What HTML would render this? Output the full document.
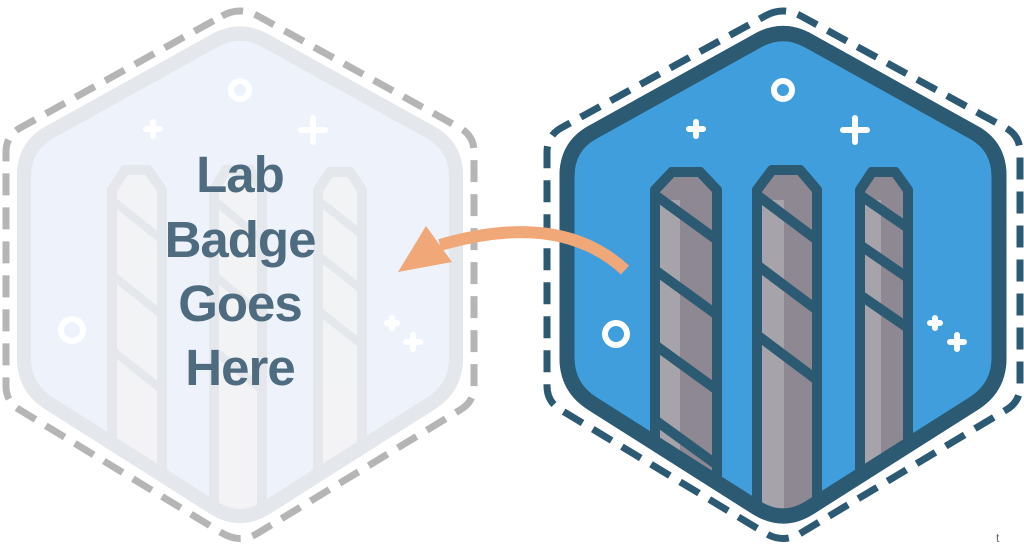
<!DOCTYPE html>
<html><head><meta charset="utf-8"><style>
html,body{margin:0;padding:0;background:#fff;width:1024px;height:551px;overflow:hidden}
svg{display:block}
text{font-family:"Liberation Sans",sans-serif;font-weight:bold}
</style></head><body>
<svg width="1024" height="551" viewBox="0 0 1024 551" xmlns="http://www.w3.org/2000/svg">
<defs>
<path id="rhex" d="M757,41 Q783,26 809,41 L973,132 Q999,146 999,176 L999,358 Q999,388 973,404 L809,508 Q783,524 757,508 L593,404 Q567,388 567,358 L567,176 Q567,146 593,132 Z"/>
<path id="lhex" d="M214,41 Q240,26 266,41 L430,132 Q456,146 456,176 L456,358 Q456,388 430,404 L266,508 Q240,524 214,508 L50,404 Q24,388 24,358 L24,176 Q24,146 50,132 Z"/>
<clipPath id="rin"><use href="#rhex"/></clipPath>
<clipPath id="lin"><use href="#lhex"/></clipPath>
</defs>

<!-- LEFT BADGE -->
<path d="M222,16 Q240,6 258,16 L460,128 Q474,136 474,152 L474,386 Q474,402 460,410 L258,533 Q240,544 222,533 L20,410 Q6,402 6,386 L6,152 Q6,136 20,128 Z" fill="none" stroke="#b5b5b5" stroke-width="7" stroke-dasharray="22,12"/>
<use href="#lhex" fill="#eef3fb" stroke="#e4e7eb" stroke-width="14"/>
<g clip-path="url(#lin)" opacity="0.9">
  <path d="M112,190 L125,170 L148,170 L162,190 L162,540 L112,540 Z" fill="#f3f3f5" stroke="#e4e6ea" stroke-width="10"/>
  <path d="M214,190 L226,170 L250,170 L262,190 L262,540 L214,540 Z" fill="#f3f3f5" stroke="#e4e6ea" stroke-width="10"/>
  <path d="M318,190 L330,172 L350,172 L362,190 L362,540 L318,540 Z" fill="#f3f3f5" stroke="#e4e6ea" stroke-width="10"/>
  <g stroke="#e4e6ea" stroke-width="8">
    <line x1="112" y1="200" x2="162" y2="240"/><line x1="112" y1="275" x2="162" y2="315"/><line x1="112" y1="350" x2="162" y2="390"/>
    <line x1="214" y1="200" x2="262" y2="240"/><line x1="214" y1="275" x2="262" y2="315"/><line x1="214" y1="350" x2="262" y2="390"/>
    <line x1="318" y1="200" x2="362" y2="235"/><line x1="318" y1="255" x2="362" y2="290"/><line x1="318" y1="310" x2="362" y2="345"/>
  </g>
</g>
<use href="#lhex" fill="none" stroke="#e4e7eb" stroke-width="14"/>
<g stroke="#fff" stroke-width="6" fill="none" stroke-linecap="round">
  <circle cx="240" cy="90" r="9"/>
  <circle cx="72" cy="330" r="11"/>
  <path d="M153,122 v14 M146,129 h14"/>
  <path d="M313,118 v24 M301,130 h24"/>
  <path d="M392,318 v10 M387,323 h10"/>
  <path d="M413,335 v14 M406,342 h14"/>
</g>
<g fill="#4f6b80" font-size="51" text-anchor="middle" letter-spacing="-1">
  <text x="240" y="192">Lab</text>
  <text x="240" y="257">Badge</text>
  <text x="240" y="321">Goes</text>
  <text x="240" y="385">Here</text>
</g>

<!-- RIGHT BADGE -->
<path d="M765,16 Q783,6 801,16 L1006,128 Q1020,136 1020,152 L1020,386 Q1020,402 1006,410 L801,533 Q783,544 765,533 L561,410 Q547,402 547,386 L547,152 Q547,136 561,128 Z" fill="none" stroke="#2c5a73" stroke-width="7" stroke-dasharray="22,12"/>
<use href="#rhex" fill="#3f9edb" stroke="#2c5a73" stroke-width="15"/>
<g clip-path="url(#rin)">
  <g stroke="#2c5a73" stroke-width="10" stroke-linejoin="round">
    <path d="M655,190 L672,172 L700,172 L717,190 L717,540 L655,540 Z" fill="#8e8893"/>
    <path d="M757,190 L772,170 L800,170 L817,190 L817,540 L757,540 Z" fill="#8e8893"/>
    <path d="M860,190 L872,172 L895,172 L908,190 L908,540 L860,540 Z" fill="#8e8893"/>
  </g>
  <g fill="#a6a4aa">
    <rect x="660" y="200" width="20" height="340"/>
    <rect x="762" y="200" width="22" height="340"/>
    <rect x="865" y="200" width="16" height="340"/>
  </g>
  <g stroke="#2c5a73" stroke-width="10">
    <line x1="655" y1="195" x2="717" y2="240"/><line x1="655" y1="270" x2="717" y2="315"/><line x1="655" y1="345" x2="717" y2="390"/><line x1="655" y1="420" x2="717" y2="465"/>
    <line x1="757" y1="195" x2="817" y2="240"/><line x1="757" y1="265" x2="817" y2="310"/><line x1="757" y1="335" x2="817" y2="380"/>
    <line x1="860" y1="195" x2="908" y2="228"/><line x1="860" y1="245" x2="908" y2="278"/><line x1="860" y1="295" x2="908" y2="328"/>
  </g>
  <g stroke="#2c5a73" stroke-width="10" fill="none" stroke-linejoin="round">
    <path d="M655,190 L672,172 L700,172 L717,190 L717,540 L655,540 Z"/>
    <path d="M757,190 L772,170 L800,170 L817,190 L817,540 L757,540 Z"/>
    <path d="M860,190 L872,172 L895,172 L908,190 L908,540 L860,540 Z"/>
  </g>
</g>
<use href="#rhex" fill="none" stroke="#2c5a73" stroke-width="15"/>
<g stroke="#fff" stroke-width="6" fill="none" stroke-linecap="round">
  <circle cx="783" cy="90" r="9"/>
  <circle cx="616" cy="334" r="11"/>
  <path d="M696,122 v14 M689,129 h14"/>
  <path d="M855,118 v24 M843,130 h24"/>
  <path d="M935,318 v10 M930,323 h10"/>
  <path d="M957,335 v14 M950,342 h14"/>
</g>

<!-- ARROW -->
<path d="M625,270 Q560,210 440,245" fill="none" stroke="#f0a878" stroke-width="12"/>
<polygon points="398,272 426,226 452,262" fill="#f0a878"/>

<text x="996" y="542" font-size="12" fill="#666" style="font-weight:normal">t</text>
</svg>
</body></html>
